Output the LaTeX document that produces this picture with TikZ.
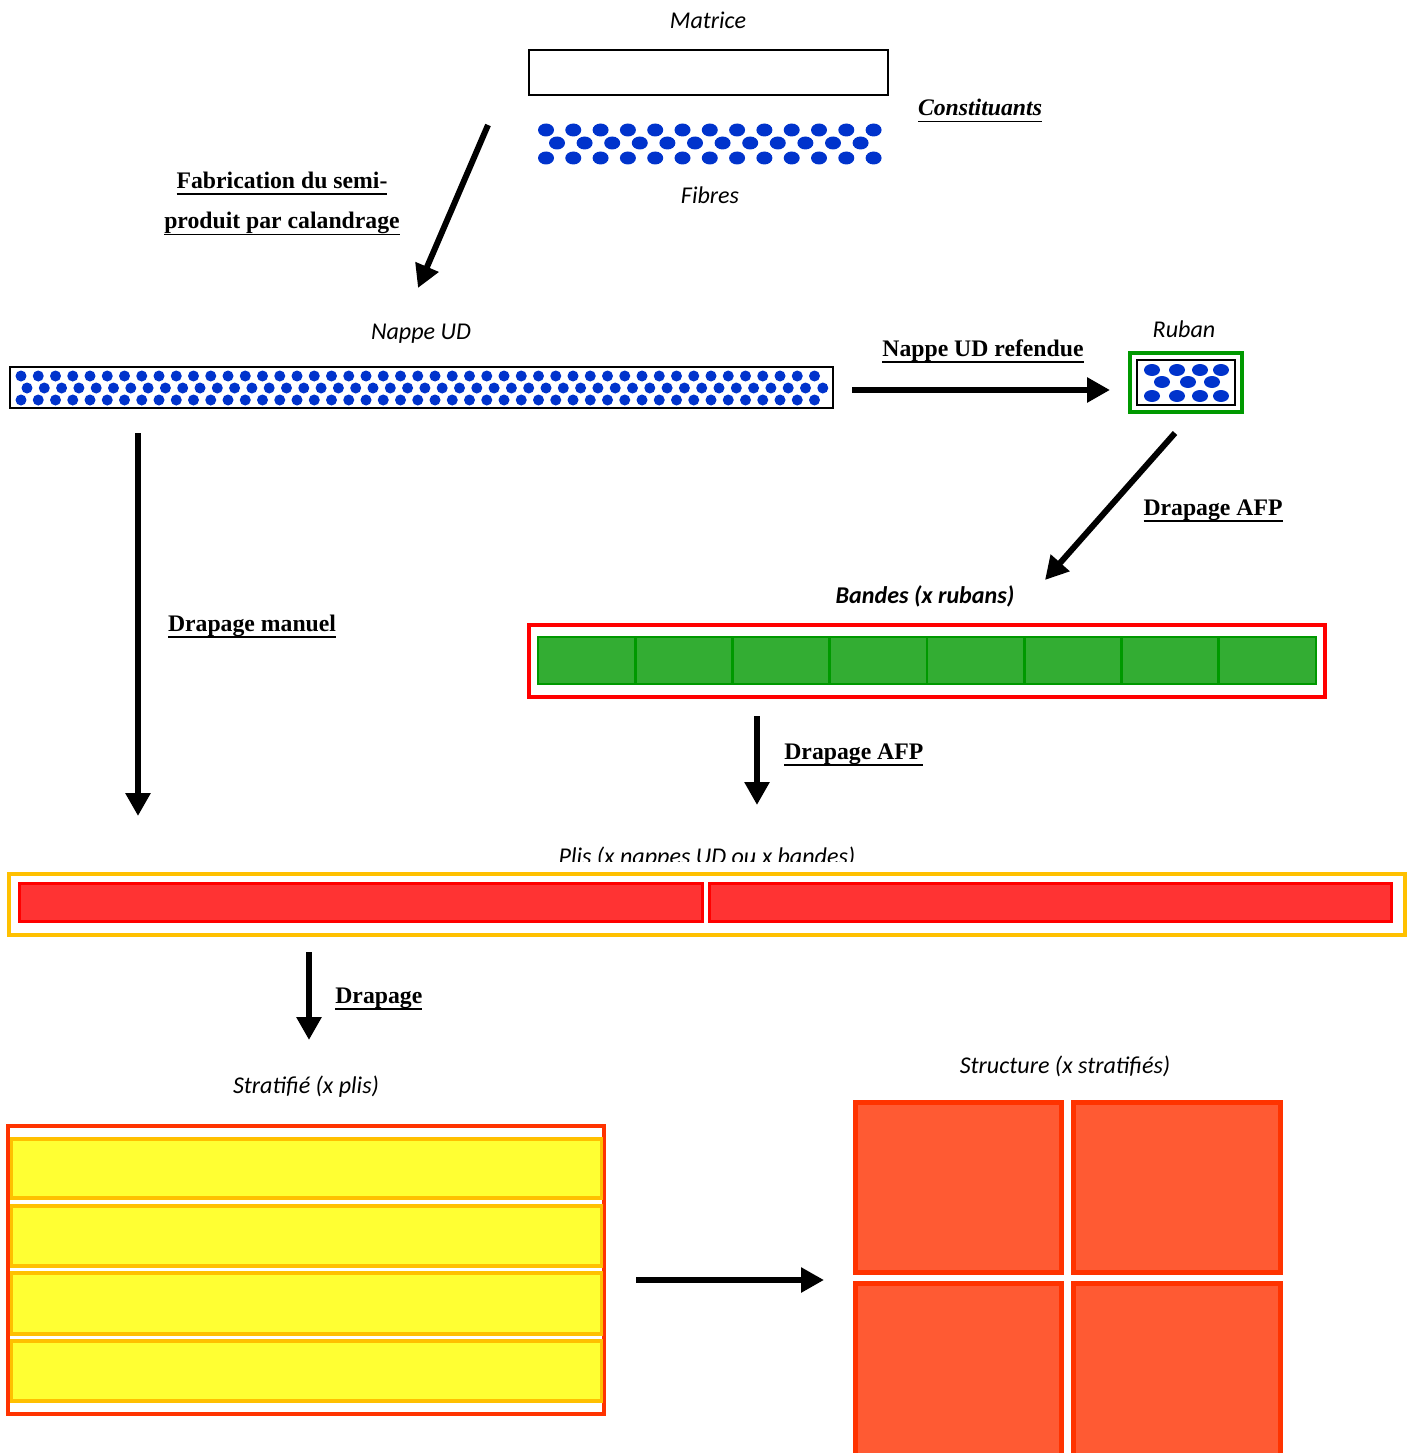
\documentclass[tikz,border=0pt]{standalone}
\usepackage{fontspec}
\setmainfont{Liberation Serif}
\newfontfamily\calibri{Carlito}
\newcommand{\souligne}[1]{\setbox0\hbox{#1}\rlap{\vrule width\wd0 height-2.6pt depth3.7pt}\box0}
\usetikzlibrary{arrows.meta}
\definecolor{fibre}{RGB}{0,51,204}
\definecolor{ruban}{RGB}{0,153,0}
\definecolor{rubanfill}{RGB}{51,173,51}
\definecolor{bande}{RGB}{255,0,0}
\definecolor{plifill}{RGB}{255,51,51}
\definecolor{ambre}{RGB}{255,192,0}
\definecolor{jaune}{RGB}{255,255,51}
\definecolor{strat}{RGB}{255,51,0}
\definecolor{structfill}{RGB}{255,90,51}
\tikzset{
  lbl/.style={font=\calibri\itshape\fontsize{13.7}{16}\selectfont,inner sep=0pt,anchor=base},
  op/.style={font=\bfseries\fontsize{13.5}{23}\selectfont,inner sep=0pt,align=center,anchor=base},
  flow/.style={-{Triangle[length=0.46cm,width=0.48cm]},line width=3.4pt},
  cadre/.style={line width=1.4pt},
}

\begin{document}
\begin{tikzpicture}[x=0.02cm,y=-0.02cm]
\clip (0,0) rectangle (1409,1453);
% constituants
\node[lbl] (matrice) at (708,29) {Matrice};
\draw[cadre] (529,50) rectangle (888,95);
\node[op,font=\bfseries\itshape\fontsize{13.5}{16}\selectfont] (constit) at (980,116) {\souligne{Constituants}};
\foreach \i in {0,...,12}{
  \fill[fibre] ({546+27.3*\i},130) ellipse [x radius=0.16cm,y radius=0.13cm];
  \fill[fibre] ({546+27.3*\i},158) ellipse [x radius=0.16cm,y radius=0.13cm];
}
\foreach \i in {0,...,11}
  \fill[fibre] ({557+27.6*\i},143) ellipse [x radius=0.16cm,y radius=0.13cm];
\node[lbl] (fibres) at (710,204) {Fibres};

% calandrage
\coordinate (cal-a) at (488,125);
\coordinate (cal-b) at (418,288);
\draw[flow] (cal-a) -- (cal-b);
\node[op] (calandrage) at (282,229) {\souligne{Fabrication du semi-}\\\souligne{produit par calandrage}};

% nappe UD
\node[lbl] (nappe) at (421,339) {Nappe UD};
\draw[cadre] (10,367) rectangle (833,408);
\foreach \i in {0,...,46}{
  \fill[fibre] ({21+17.25*\i},376) circle (0.11cm);
  \fill[fibre] ({27+17.3*\i},388) circle (0.11cm);
  \fill[fibre] ({21+17.25*\i},400) circle (0.11cm);
}

% ruban
\coordinate (ref-a) at (852,390);
\coordinate (ref-b) at (1110,390);
\draw[flow] (ref-a) -- (ref-b);
\node[op] (refendue) at (983,356) {\souligne{Nappe UD refendue}};
\node[lbl] (ruban) at (1184,337) {Ruban};
\draw[ruban,line width=1.8pt] (1130,353) rectangle (1242,412);
\draw[cadre] (1137,360) rectangle (1235,405);
\foreach \x in {1152,1177,1200,1221}{
  \fill[fibre] (\x,370) ellipse [x radius=0.16cm,y radius=0.12cm];
  \fill[fibre] (\x,396) ellipse [x radius=0.16cm,y radius=0.12cm];
}
\foreach \x in {1162,1188,1212}
  \fill[fibre] (\x,382) ellipse [x radius=0.16cm,y radius=0.12cm];

% bandes
\coordinate (afp-a) at (1175,433);
\coordinate (afp-b) at (1045,580);
\draw[flow] (afp-a) -- (afp-b);
\node[op] (afp1) at (1213,515) {\souligne{Drapage AFP}};
\node[lbl,font=\calibri\bfseries\itshape\fontsize{13.7}{16}\selectfont] (bandes) at (925,603) {Bandes (x rubans)};
\draw[bande,line width=1.8pt] (529,625) rectangle (1325,697);
\foreach \i in {0,...,7}
  \draw[ruban,fill=rubanfill,line width=1.6pt] ({538+97.25*\i},637) rectangle ++(97.25,47);

% vers plis
\coordinate (afp2-a) at (757,716);
\coordinate (afp2-b) at (757,805);
\draw[flow] (afp2-a) -- (afp2-b);
\node[op,anchor=base west] (afp2) at (784,759) {\souligne{Drapage AFP}};
\coordinate (man-a) at (138,433);
\coordinate (man-b) at (138,816);
\draw[flow] (man-a) -- (man-b);
\node[op] (manuel) at (252,631) {\souligne{Drapage manuel}};

% plis
\begin{scope}
\clip (450,830) rectangle (950,861);
\node[lbl] (plis) at (707,864) {Plis (x nappes UD ou x bandes)};
\end{scope}
\draw[ambre,line width=1.8pt] (9,874) rectangle (1405,935);
\draw[bande,fill=plifill,line width=1.8pt] (19.5,883.5) rectangle (702.5,921.5);
\draw[bande,fill=plifill,line width=1.8pt] (709.5,883.5) rectangle (1391.5,921.5);

% stratifie
\coordinate (drap-a) at (309,952);
\coordinate (drap-b) at (309,1040);
\draw[flow] (drap-a) -- (drap-b);
\node[op,anchor=base west] (drapage) at (335,1003) {\souligne{Drapage}};
\node[lbl] (stratifie) at (306,1093) {Stratifié (x plis)};
\draw[strat,line width=1.8pt] (8,1126) rectangle (604,1414);
\foreach \ya/\yb in {1139/1198,1206/1266,1273/1334,1341/1401}
  \draw[ambre,fill=jaune,line width=1.8pt] (11.5,\ya) rectangle (601.5,\yb);

% structure
\coordinate (str-a) at (636,1280);
\coordinate (str-b) at (824,1280);
\draw[flow] (str-a) -- (str-b);
\node[lbl] (structure) at (1065,1073) {Structure (x stratifiés)};
\foreach \xa/\xb in {855.5/1061.5,1073.5/1280.5}{
  \draw[strat,fill=structfill,line width=2.8pt] (\xa,1102.5) rectangle (\xb,1272.5);
  \draw[strat,fill=structfill,line width=2.8pt] (\xa,1283.5) rectangle (\xb,1470);
}
\end{tikzpicture}
\end{document}
